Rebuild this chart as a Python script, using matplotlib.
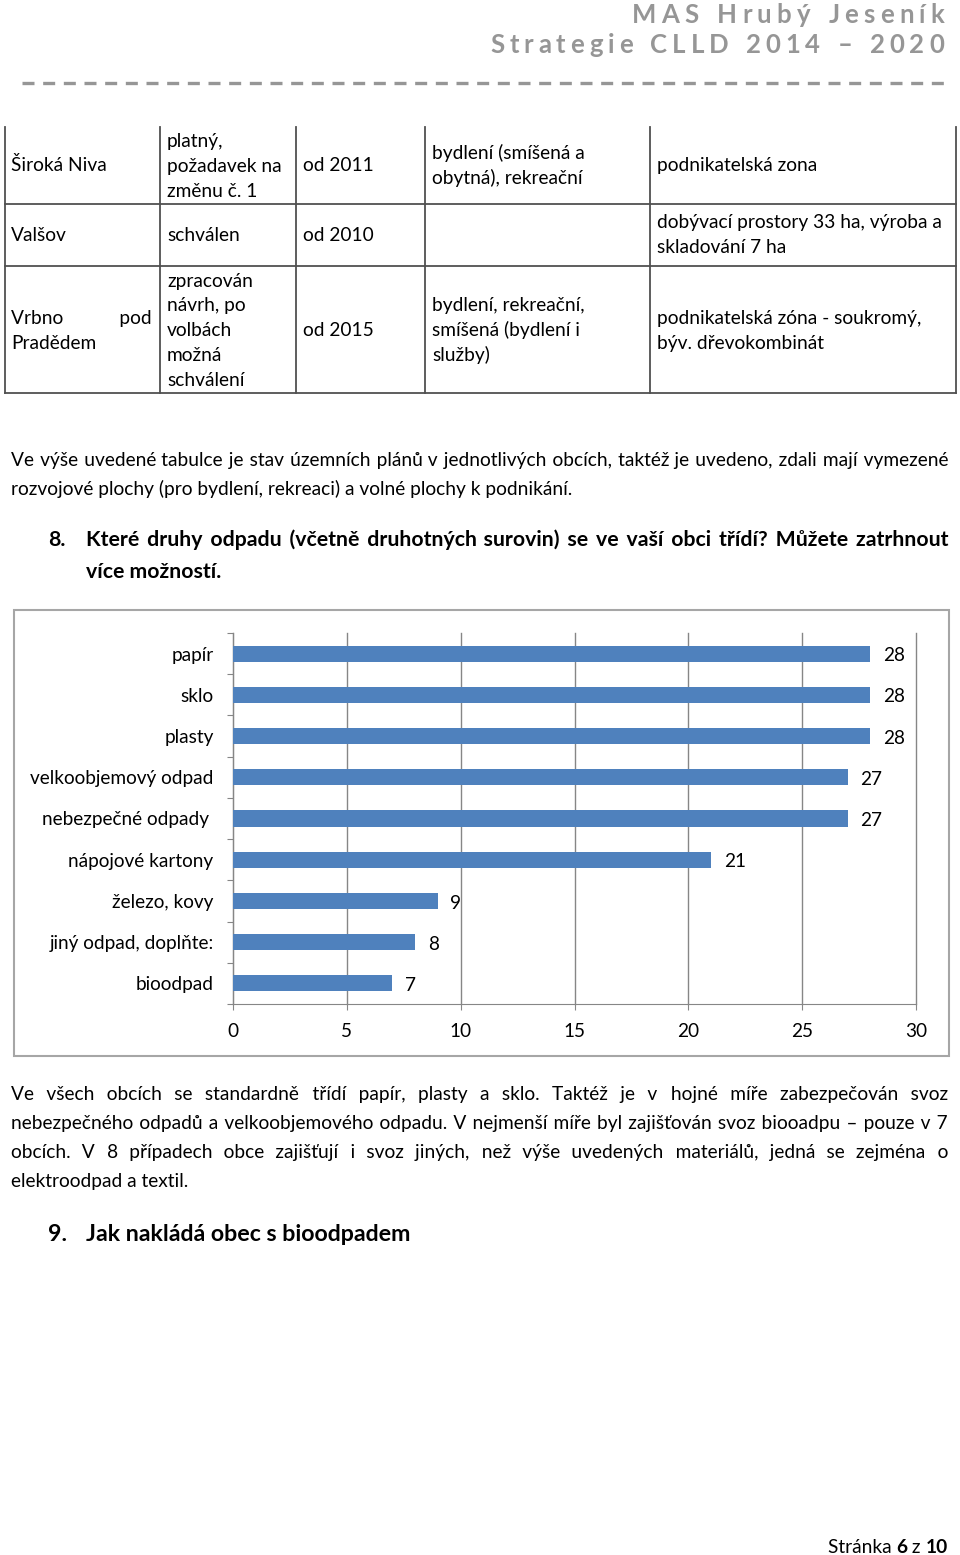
import matplotlib
matplotlib.use('Agg')
import matplotlib.pyplot as plt
from matplotlib.patches import Rectangle
from matplotlib.lines import Line2D

plt.rcParams['font.family'] = ['Lato', 'DejaVu Sans']

W, H = 960, 1555

# chart data
categories = ['papír', 'sklo', 'plasty', 'velkoobjemový odpad', 'nebezpečné odpady ',
              'nápojové kartony', 'železo, kovy', 'jiný odpad, doplňte:', 'bioodpad']
counts = [28, 28, 28, 27, 27, 21, 9, 8, 7]
x_ticks = [0, 5, 10, 15, 20, 25, 30]

# table (end of the table from previous page)
col_x = [5, 160, 296, 425, 650, 956]
row_y = [127, 204, 266, 393]

header_1 = 'MAS Hrubý Jeseník'
header_2 = 'Strategie CLLD 2014 – 2020'

para_1 = ['Ve výše uvedené tabulce je stav územních plánů v jednotlivých obcích, taktéž je uvedeno, zdali mají vymezené',
          'rozvojové plochy (pro bydlení, rekreaci) a volné plochy k podnikání.']
question_8 = ['Které druhy odpadu (včetně druhotných surovin) se ve vaší obci třídí? Můžete zatrhnout',
              'více možností.']
para_2 = ['Ve všech obcích se standardně třídí papír, plasty a sklo. Taktéž je v hojné míře zabezpečován svoz',
          'nebezpečného odpadů a velkoobjemového odpadu. V nejmenší míře byl zajišťován svoz biooadpu – pouze v 7',
          'obcích. V 8 případech obce zajišťují i svoz jiných, než výše uvedených materiálů, jedná se zejména o',
          'elektroodpad a textil.']
question_9 = 'Jak nakládá obec s bioodpadem'

fig = plt.figure(figsize=(W / 100, H / 100), dpi=100)
page = fig.add_axes([0, 0, 1, 1])
page.set_xlim(0, W)
page.set_ylim(H, 0)
page.axis('off')
renderer = fig.canvas.get_renderer()
HAIR = '\u200a'


def width(s, size, weight='normal'):
    t = page.text(0, 0, s, fontsize=size, fontweight=weight)
    w = t.get_window_extent(renderer).width
    t.remove()
    return w


def fit(s, target, weight='normal'):
    return 10 * target / width(s, 10, weight)


def line(x0, y, s, size, weight='normal', x1=None, color='black'):
    if x1 is not None:
        # justify: pad each normal space with hair spaces, keep one text object
        words = s.split(' ')
        base = width(s, size, weight)
        w_hair = (width('a' + HAIR * 20 + 'a', size, weight) - width('aa', size, weight)) / 20
        extra = (x1 - x0 - base) / (len(words) - 1)
        out = words[0]
        done = 0
        for k, w_ in enumerate(words[1:], start=1):
            n = int(round(k * extra / w_hair)) - done
            done += n
            out += ' ' + HAIR * n + w_
        s = out
    page.text(x0, y, s, fontsize=size, fontweight=weight, va='baseline', color=color)


def spaced(x0, x1, y, s, size, color):
    sp = 0.3 * size * 100 / 72
    ws = [sp if c == ' ' else width(c, size, 'bold') for c in s]
    track = (x1 - x0 - sum(ws)) / (len(s) - 1)
    x = x0
    for c, wd in zip(s, ws):
        if c != ' ':
            page.text(x, y, c, fontsize=size, fontweight='bold', va='baseline', color=color)
        x += wd + track


def cell(x, centers, lines, size):
    for yc, s in zip(centers, lines):
        page.text(x, yc + 6, s, fontsize=size, va='baseline')


# header
grey = '#969696'
spaced(632, 944, 23, header_1, 18.5, grey)
spaced(490, 944, 53, header_2, 18.5, grey)
page.add_line(Line2D([22, 944], [83, 83], color=grey, lw=2.4, dashes=(3.6, 2.6)))

# table
tc = '#505050'
for x in col_x:
    page.add_line(Line2D([x, x], [row_y[0], row_y[-1]], color=tc, lw=1.3))
for y in row_y[1:]:
    page.add_line(Line2D([col_x[0], col_x[-1]], [y, y], color=tc, lw=1.3))

ts = fit('podnikatelská zóna - soukromý,', 265)
cell(11, [165], ['Široká Niva'], ts)
cell(167, [141, 166, 191], ['platný,', 'požadavek na', 'změnu č. 1'], ts)
cell(303, [165], ['od 2011'], ts)
cell(432, [153, 178], ['bydlení (smíšená a', 'obytná), rekreační'], ts)
cell(657, [165], ['podnikatelská zona'], ts)

cell(11, [235], ['Valšov'], ts)
cell(167, [235], ['schválen'], ts)
cell(303, [235], ['od 2010'], ts)
cell(657, [222, 247], ['dobývací prostory 33 ha, výroba a', 'skladování 7 ha'], ts)

line(11, 318 + 6, 'Vrbno pod', ts, x1=152)
cell(11, [343], ['Pradědem'], ts)
cell(167, [281, 305, 330, 355, 380], ['zpracován', 'návrh, po', 'volbách', 'možná', 'schválení'], ts)
cell(303, [330], ['od 2015'], ts)
cell(432, [305, 330, 355], ['bydlení, rekreační,', 'smíšená (bydlení i', 'služby)'], ts)
cell(657, [318, 343], ['podnikatelská zóna - soukromý,', 'býv. dřevokombinát'], ts)

# paragraphs
bs = fit(para_1[1], 565)
line(11, 466, para_1[0], bs, x1=948)
line(11, 495, para_1[1], bs)

qs = fit(question_8[1], 135, 'bold')
line(48, 546, '8.', qs, 'bold')
line(86, 546, question_8[0], qs, 'bold', x1=948)
line(86, 578, question_8[1], qs, 'bold')

for i, s in enumerate(para_2):
    y = 1100 + 29 * i
    if i < len(para_2) - 1:
        line(11, y, s, bs, x1=948)
    else:
        line(11, y, s, bs)

hs = fit(question_9, 325, 'bold')
line(48, 1241, '9.', hs, 'bold')
line(86, 1241, question_9, hs, 'bold')

# footer
x = 948
for s, wt in [('10', 'bold'), (' z ', 'normal'), ('6', 'bold'), ('Stránka ', 'normal')]:
    page.text(x, 1553, s, fontsize=bs, fontweight=wt, ha='right', va='baseline')
    x -= width(s, bs, wt)

# chart frame
page.add_patch(Rectangle((14, 610), 935, 446, fill=False, edgecolor='#a6a6a6', lw=1.5))

# chart
cs = fit('velkoobjemový odpad', 185)
ax = fig.add_axes([233 / W, 1 - 1004 / H, (916 - 233) / W, (1004 - 633) / H])
ax.barh(range(len(counts)), counts, height=0.39, color='#4F81BD', zorder=3)
ax.set_xlim(0, 30)
ax.set_ylim(len(counts) - 0.5, -0.5)
ax.set_xticks(x_ticks)
ax.set_xticklabels([str(v) for v in x_ticks], fontsize=cs)
ax.xaxis.grid(True, color='#868686', lw=1)
for gl in ax.get_xgridlines():
    gl.set_clip_on(False)
ax.set_axisbelow(True)
ax.set_yticks([i - 0.5 for i in range(len(counts) + 1)])
ax.set_yticklabels([])
ax.set_yticks(range(len(counts)), minor=True)
ax.set_yticklabels(categories, minor=True, fontsize=cs)
ax.tick_params(axis='y', which='major', length=4, color='#868686', direction='out')
ax.tick_params(axis='y', which='minor', length=0, pad=14)
ax.tick_params(axis='x', length=4, color='#868686', pad=10)
for sp in ['top', 'right']:
    ax.spines[sp].set_visible(False)
for sp in ['left', 'bottom']:
    ax.spines[sp].set_color('#868686')
for i, v in enumerate(counts):
    ax.annotate(str(v), (v, i), xytext=(9, -1.5), textcoords='offset points',
                va='center', ha='left', fontsize=cs)

fig.savefig('out.png', dpi=100)
